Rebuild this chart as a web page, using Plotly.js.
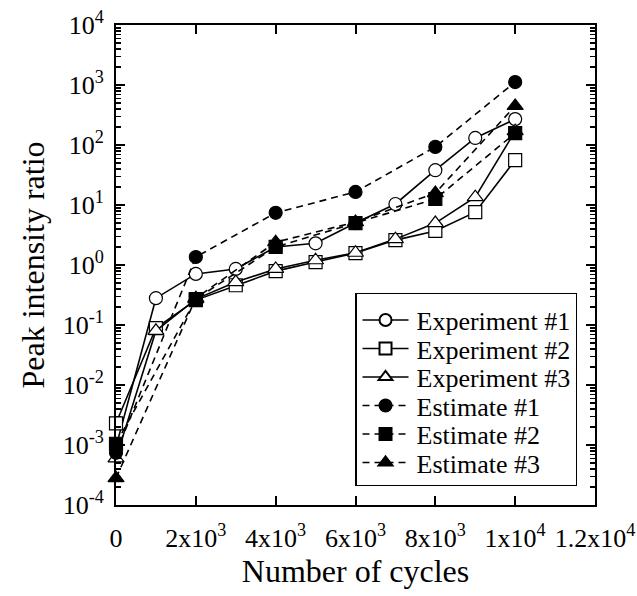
<!DOCTYPE html>
<html>
<head>
<meta charset="utf-8">
<script src="https://cdn.plot.ly/plotly-3.0.1.min.js"></script>
<style>
  html, body { margin: 0; padding: 0; background: #fff; }
  #chart { width: 637px; height: 596px; }
</style>
</head>
<body>
<div id="chart"></div>
<script>
// Number of cycles at which intensity ratios were measured / estimated
const cyclesExp = [0, 1000, 2000, 3000, 4000, 5000, 6000, 7000, 8000, 9000, 10000];
const cyclesEst = [0, 2000, 4000, 6000, 8000, 10000];

// Measured peak intensity ratios
const experiment1 = [9.3e-4, 0.28, 0.71, 0.86, 2.0, 2.3, 5.0, 10.4, 38, 131, 270];
const experiment2 = [2.3e-3, 0.089, 0.26, 0.46, 0.79, 1.12, 1.58, 2.6, 3.7, 7.6, 56];
const experiment3 = [6.0e-4, 0.08, 0.27, 0.52, 0.86, 1.2, 1.6, 2.7, 5.0, 13.5, 170];

// Estimated peak intensity ratios
const estimate1 = [7.4e-4, 1.36, 7.4, 16.5, 93, 1120];
const estimate2 = [1.05e-3, 0.27, 2.0, 5.0, 12.6, 158];
const estimate3 = [2.8e-4, 0.28, 2.4, 5.2, 15.8, 447];

const seriesNames = ['Experiment #1', 'Experiment #2', 'Experiment #3',
                     'Estimate #1', 'Estimate #2', 'Estimate #3'];

// Axis tick labels
const xTickVals = [0, 2000, 4000, 6000, 8000, 10000, 12000];
const xTickText = ['0', '2x10<sup>3</sup>', '4x10<sup>3</sup>', '6x10<sup>3</sup>',
                   '8x10<sup>3</sup>', '1x10<sup>4</sup>', '1.2x10<sup>4</sup>'];
const yTickVals = [1e-4, 1e-3, 1e-2, 1e-1, 1, 10, 100, 1000, 10000];
const yTickText = ['10<sup>-4</sup>', '10<sup>-3</sup>', '10<sup>-2</sup>', '10<sup>-1</sup>',
                   '10<sup>0</sup>', '10<sup>1</sup>', '10<sup>2</sup>', '10<sup>3</sup>',
                   '10<sup>4</sup>'];

const FONT = 'Liberation Serif';

function makeTrace(x, y, name, symbol, dashed) {
  return {
    x: x, y: y, name: name, type: 'scatter', mode: 'lines+markers',
    cliponaxis: false,
    line: { color: '#000', width: 1.6, dash: dashed ? '7px,5px' : 'solid' },
    marker: {
      symbol: symbol,
      size: symbol.indexOf('triangle') === 0 ? 14 : 13,
      color: dashed ? '#000' : '#fff',
      line: { color: '#000', width: 1.2 }
    }
  };
}

const traces = [
  makeTrace(cyclesExp, experiment1, seriesNames[0], 'circle', false),
  makeTrace(cyclesExp, experiment2, seriesNames[1], 'square', false),
  makeTrace(cyclesExp, experiment3, seriesNames[2], 'triangle-up', false),
  makeTrace(cyclesEst, estimate1, seriesNames[3], 'circle', true),
  makeTrace(cyclesEst, estimate2, seriesNames[4], 'square', true),
  makeTrace(cyclesEst, estimate3, seriesNames[5], 'triangle-up', true)
];

const layout = {
  width: 637, height: 596,
  margin: { l: 116, r: 42, t: 25, b: 91 },
  paper_bgcolor: '#fff', plot_bgcolor: '#fff',
  font: { family: FONT, color: '#000', size: 26 },
  showlegend: true,
  legend: {
    x: 0.499, xanchor: 'left', y: 0.4417, yanchor: 'top',
    bgcolor: '#fff', bordercolor: '#000', borderwidth: 1.5,
    font: { family: FONT, size: 26, color: '#000' },
    itemwidth: 50, tracegroupgap: 0, itemsizing: 'constant'
  },
  xaxis: {
    type: 'linear', range: [0, 12000],
    tickvals: xTickVals, ticktext: xTickText,
    ticks: 'inside', ticklen: 9, tickwidth: 2, tickcolor: '#000',
    showline: true, linewidth: 2, linecolor: '#000', mirror: 'allticks',
    showgrid: false, zeroline: false, ticklabelstandoff: 9,
    tickfont: { family: FONT, size: 26 },
    title: { text: 'Number of cycles', font: { family: FONT, size: 32 }, standoff: 4 }
  },
  yaxis: {
    type: 'log', range: [-4, 4],
    tickvals: yTickVals, ticktext: yTickText,
    ticks: 'inside', ticklen: 9, tickwidth: 2, tickcolor: '#000',
    showline: true, linewidth: 2, linecolor: '#000', mirror: 'allticks',
    showgrid: false, zeroline: false, ticklabelstandoff: 5,
    tickfont: { family: FONT, size: 26 },
    minor: { ticks: 'inside', ticklen: 5, tickwidth: 1.5, tickcolor: '#000', dtick: 'D1', showgrid: false },
    title: { text: 'Peak intensity ratio', font: { family: FONT, size: 32 }, standoff: 8 }
  }
};

// Compact legend rows and longer sample lines with the symbol centred on them
function tidyLegend(gd) {
  const leg = gd.querySelector('.legend');
  if (!leg) return;
  const rowH = 28.5, firstY = 27, padBottom = 24;
  const items = leg.querySelectorAll('.traces');
  items.forEach(function (item, i) {
    const m = /translate\(([-\d.]+)[ ,]+([-\d.]+)\)/.exec(item.getAttribute('transform') || '');
    const x = m ? parseFloat(m[1]) : 0;
    item.setAttribute('transform', 'translate(' + x + ',' + (firstY + i * rowH) + ')');
    item.querySelectorAll('path.js-line').forEach(function (p) {
      p.setAttribute('d', 'M6,0h46');
      p.style.strokeWidth = '1.4px';
    });
    item.querySelectorAll('.legendpoints path.scatterpts').forEach(function (p) {
      p.setAttribute('transform', 'translate(29,0)');
    });
  });
  const totalH = firstY + (items.length - 1) * rowH + padBottom;
  const bg = leg.querySelector('rect.bg');
  if (bg) bg.setAttribute('height', totalH - 1.5);
}

Plotly.newPlot('chart', traces, layout, { staticPlot: true, displayModeBar: false })
  .then(tidyLegend);
</script>
</body>
</html>
